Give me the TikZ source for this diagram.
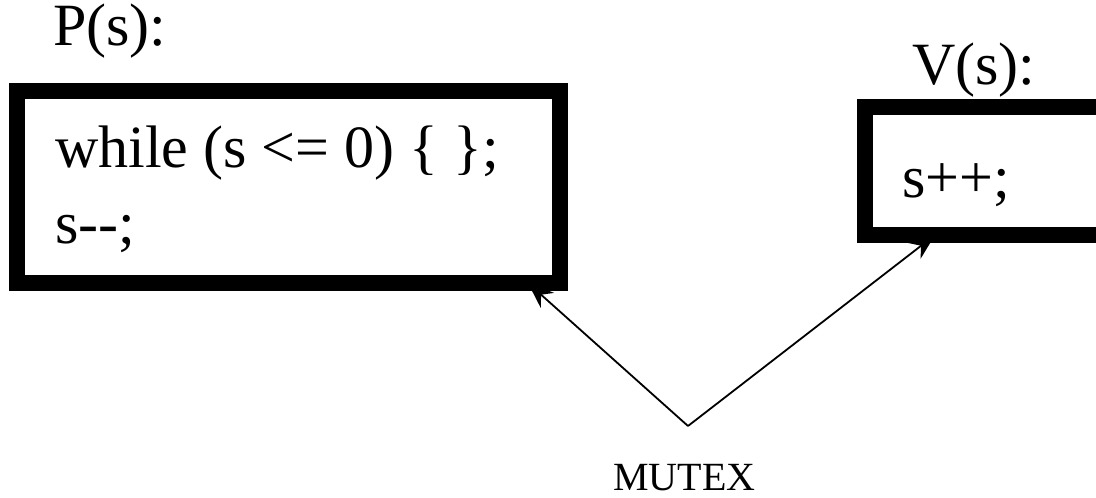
\documentclass[tikz,border=0pt]{standalone}
\usepackage{fontspec}
\setmainfont{Liberation Serif}[Ligatures=TeXOff]
\usetikzlibrary{arrows.meta}

\tikzset{
  codebox/.style={draw, line width=16pt, inner sep=0pt, outer sep=0pt},
  codetext/.style={anchor=base west, inner sep=0pt, font=\fontsize{60}{72}\selectfont},
  mutexarrow/.style={-{Stealth[length=26pt,width=20pt]}, line width=1.8pt}
}

\begin{document}
\begin{tikzpicture}[x=1pt, y=-1pt]
  \clip (0,0) rectangle (1096,498);
  % the two critical sections
  \node[codebox, minimum width=543pt, minimum height=192pt] (P) at (288.5,187) {};
  \node[codebox, minimum width=400pt, minimum height=128pt] (V) at (1065,171) {};
  \node[codetext] (ptitle) at (53,45) {P(s):};
  \node[codetext] (vtitle) at (912,84) {V(s):};
  \node[codetext] (pline1) at (55,167) {while (s <= 0) \{ \};};
  \node[codetext] (pline2) at (55,243) {s--;};
  \node[codetext] (vline1) at (902,197) {s++;};
  % mutex
  \node[anchor=base west, inner sep=0pt, font=\fontsize{40}{48}\selectfont] (mutex) at (613,490) {MUTEX};
  \coordinate (mutexpt) at (688,426);
  \draw[mutexarrow] (mutexpt) -- ([xshift=239.5pt]P.south);
  \draw[mutexarrow] (mutexpt) -- ([xshift=-130pt]V.south);
\end{tikzpicture}
\end{document}
